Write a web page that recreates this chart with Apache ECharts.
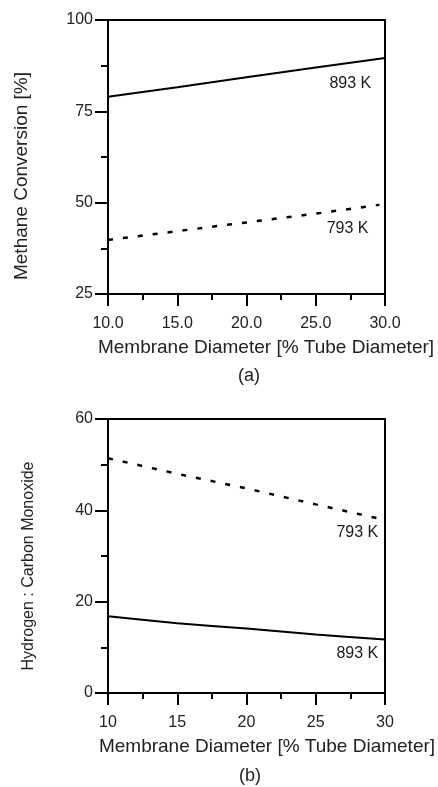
<!DOCTYPE html>
<html>
<head>
<meta charset="utf-8">
<script src="https://cdn.jsdelivr.net/npm/echarts@6/dist/echarts.min.js"></script>
<style>
  html, body { margin: 0; padding: 0; background: #fff; }
  #main { width: 438px; height: 787px; }
</style>
</head>
<body>
<div id="main"></div>
<script>
// membrane diameter, % of tube diameter
var diameters = [10, 15, 20, 25, 30];
var diametersB = [10, 15, 20, 25, 29.6];

// (a) methane conversion [%]
var conv893 = [79.0, 81.6, 84.3, 87.0, 89.6];
var conv793 = [39.8, 42.2, 44.6, 47.0, 49.4];

// (b) hydrogen : carbon monoxide
var ratio793 = [51.4, 48.0, 44.8, 41.3, 37.9];
var ratio893 = [16.8, 15.3, 14.1, 12.8, 11.7];

// curve labels [x, y, text]
var labelsA = [[27.5, 82.6, '893 K'], [27.3, 43.0, '793 K']];
var labelsB = [[28.0, 35.2, '793 K'], [28.0, 8.6, '893 K']];

var FONT = 'Liberation Sans, Arial, sans-serif';
var TXT = '#222';

function pairs(xs, ys) {
	var out = [];
	for (var i = 0; i < xs.length; i++) {
		out.push([xs[i], ys[i]]);
	}
	return out;
}

// text next to the curves, placed through the axes
function labelSeries(list, idx) {
	return {
		type: 'scatter', xAxisIndex: idx, yAxisIndex: idx, silent: true,
		symbol: 'circle', symbolSize: 1,
		itemStyle: { color: '#fff', opacity: 1 },
		emphasis: { disabled: true },
		label: {
			show: true, position: 'inside', color: '#1a1a1a', opacity: 1,
			fontSize: 16, fontFamily: FONT,
			formatter: function(p) { return p.data[2]; }
		},
		data: list
	};
}

function bottomAxis(idx, digits) {
	return {
		type: 'value', gridIndex: idx, min: 10, max: 30, interval: 5,
		axisLine: { show: true, onZero: false, lineStyle: { color: '#000', width: 2 } },
		axisTick: { show: true, length: 12, lineStyle: { color: '#000', width: 2 } },
		minorTick: { show: true, splitNumber: 2, length: 6, lineStyle: { color: '#000', width: 2 } },
		axisLabel: {
			margin: 22, color: TXT, fontSize: 16, fontFamily: FONT,
			formatter: function(v) { return v.toFixed(digits); }
		},
		splitLine: { show: false }
	};
}

function frameAxis(kind, idx) {
	return {
		type: 'value', gridIndex: idx, position: kind === 'x' ? 'top' : 'right',
		axisLine: { show: true, onZero: false, lineStyle: { color: '#000', width: 2 } },
		axisTick: { show: false }, axisLabel: { show: false }, splitLine: { show: false }
	};
}

function leftAxis(idx, min, max, interval) {
	return {
		type: 'value', gridIndex: idx, min: min, max: max, interval: interval,
		axisLine: { show: true, onZero: false, lineStyle: { color: '#000', width: 2 } },
		axisTick: { show: true, length: 13, lineStyle: { color: '#000', width: 2 } },
		minorTick: { show: true, splitNumber: 2, length: 7, lineStyle: { color: '#000', width: 2 } },
		axisLabel: { margin: 15, color: TXT, fontSize: 16, fontFamily: FONT },
		splitLine: { show: false }
	};
}

function txt(s, x, y, size, rot) {
	return {
		type: 'text', x: x, y: y, rotation: rot || 0,
		style: { text: s, align: 'center', verticalAlign: 'middle', fill: TXT, font: size + 'px ' + FONT }
	};
}

var chart = echarts.init(document.getElementById('main'), null, { renderer: 'canvas' });
chart.setOption({
	animation: false,
	backgroundColor: '#fff',
	graphic: [
		txt('Membrane Diameter [% Tube Diameter]', 266, 348, 19),
		txt('Membrane Diameter [% Tube Diameter]', 267, 747, 19),
		txt('(a)', 249, 376, 18),
		txt('(b)', 250, 776, 18),
		txt('Methane Conversion [%]', 22, 176, 19, Math.PI / 2),
		txt('Hydrogen : Carbon Monoxide', 29, 566, 16, Math.PI / 2)
	],
	grid: [
		{ left: 108, width: 277, top: 20, height: 274 },
		{ left: 108, width: 277, top: 419, height: 274 }
	],
	xAxis: [
		bottomAxis(0, 1),
		bottomAxis(1, 0),
		frameAxis('x', 0),
		frameAxis('x', 1)
	],
	yAxis: [
		leftAxis(0, 25, 100, 25),
		leftAxis(1, 0, 60, 20),
		frameAxis('y', 0),
		frameAxis('y', 1)
	],
	series: [
		{
			name: '893 K', type: 'line', xAxisIndex: 0, yAxisIndex: 0,
			data: pairs(diameters, conv893), symbol: 'none',
			lineStyle: { color: '#000', width: 2 }
		},
		{
			name: '793 K', type: 'line', xAxisIndex: 0, yAxisIndex: 0,
			data: pairs(diametersB, conv793), symbol: 'none',
			lineStyle: { color: '#000', width: 2.5, type: [5, 10] }
		},
		{
			name: '793 K b', type: 'line', xAxisIndex: 1, yAxisIndex: 1,
			data: pairs(diameters, ratio793), symbol: 'none',
			lineStyle: { color: '#000', width: 2.5, type: [5, 10] }
		},
		{
			name: '893 K b', type: 'line', xAxisIndex: 1, yAxisIndex: 1,
			data: pairs(diameters, ratio893), symbol: 'none', smooth: 0.3,
			lineStyle: { color: '#000', width: 2 }
		},
		labelSeries(labelsA, 0),
		labelSeries(labelsB, 1)
	]
});
</script>
</body>
</html>
